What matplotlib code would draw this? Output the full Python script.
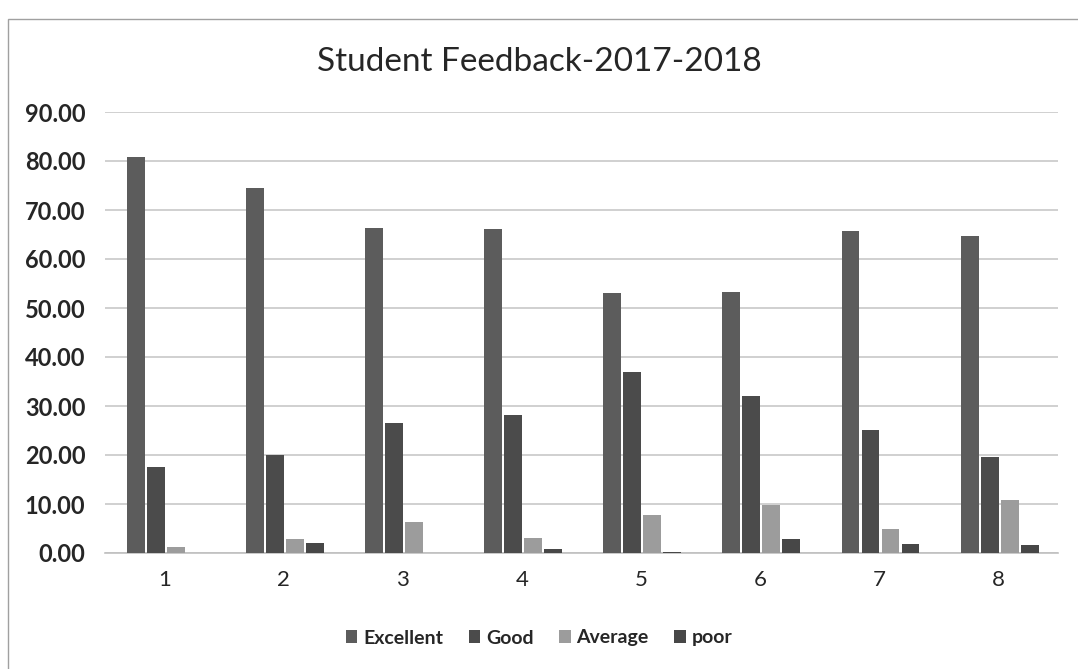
import matplotlib.pyplot as plt
import numpy as np
from matplotlib.patches import Rectangle

plt.rcParams['font.family'] = ['Lato', 'DejaVu Sans']

categories = ["1", "2", "3", "4", "5", "6", "7", "8"]
excellent = [80.8, 74.5, 66.3, 66.2, 53.0, 53.3, 65.8, 64.7]
good = [17.6, 20.0, 26.5, 28.2, 37.0, 32.0, 25.2, 19.6]
average = [1.2, 2.9, 6.3, 3.1, 7.8, 9.8, 4.9, 10.8]
poor = [0.0, 2.0, 0.0, 0.8, 0.3, 2.9, 1.8, 1.6]
yticks = np.arange(0, 100, 10)

series = [("Excellent", excellent, "#5c5c5c"),
          ("Good", good, "#4b4b4b"),
          ("Average", average, "#9c9c9c"),
          ("poor", poor, "#474747")]

fig = plt.figure(figsize=(10.78, 6.69), dpi=100)
ax = fig.add_axes([105 / 1078, 1 - 553 / 669, 953 / 1078, 441 / 669])

x = np.arange(len(categories))
step = 0.168
width = 0.15
for i, (name, vals, col) in enumerate(series):
    ax.bar(x + (i - 1.5) * step + 0.01, vals, width, color=col, label=name, zorder=3)

ax.set_xlim(-0.5, len(categories) - 0.5)
ax.set_ylim(0, 90)
ax.set_yticks(yticks)
ax.set_yticklabels([f"{v:.2f}" for v in yticks], fontsize=17, fontweight="bold", color="#262626")
ax.set_xticks(x)
ax.set_xticklabels(categories, fontsize=16, color="#262626")
ax.tick_params(axis="y", length=0, pad=14)
ax.tick_params(axis="x", length=0, pad=12)
ax.yaxis.grid(True, color="#c8c8c8", lw=1.2, zorder=0)
for s in ["top", "right", "left"]:
    ax.spines[s].set_visible(False)
ax.spines["bottom"].set_color("#c0c0c0")
ax.spines["bottom"].set_linewidth(1.2)

fig.text(0.5, 1 - 62 / 669, "Student Feedback-2017-2018", ha="center", va="center",
         fontsize=24, color="#262626")
leg = fig.legend(loc="center", bbox_to_anchor=(0.5, 1 - 638 / 669), ncol=4, frameon=False,
                 prop={"size": 14, "weight": "bold"}, handlelength=0.6, handleheight=0.6,
                 columnspacing=1.3, handletextpad=0.3)
for t in leg.get_texts():
    t.set_color("#262626")

fig.patches.append(Rectangle((8 / 1078, -0.01), 1.1, 1 - 12 / 669, transform=fig.transFigure,
                             fill=False, edgecolor="#a0a0a0", lw=1.0))

fig.savefig("out.png", dpi=100)
